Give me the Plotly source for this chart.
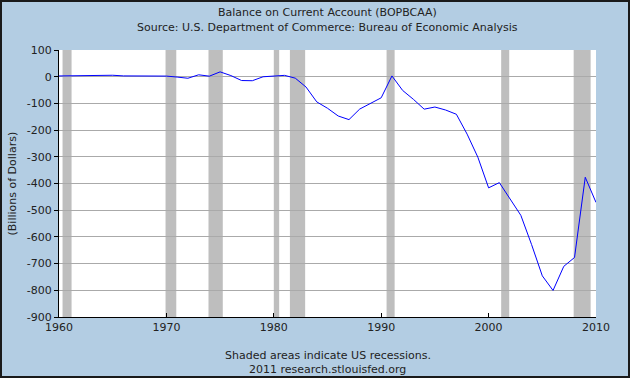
import plotly.graph_objects as go

years = list(range(1960, 2011))
balance = [2.8, 3.8, 3.4, 4.4, 6.8, 5.4, 3.0, 2.6, 0.6, 0.4,
           2.3, -1.4, -5.8, 7.1, 2.0, 18.1, 4.3, -14.3, -15.1, -0.3,
           2.3, 5.0, -5.5, -38.7, -94.3, -118.2, -147.2, -160.7, -121.2, -99.5,
           -79.0, 2.9, -51.6, -84.8, -121.6, -113.6, -124.8, -140.7, -215.1, -301.6,
           -416.3, -396.7, -457.8, -519.1, -628.5, -745.8, -800.6, -710.3, -677.1, -376.6,
           -470.9]

recession_starts = [1960.33, 1969.92, 1973.92, 1980.0, 1981.5, 1990.5, 2001.17, 2007.92]
recession_ends = [1961.17, 1970.92, 1975.25, 1980.5, 1982.92, 1991.25, 2001.92, 2009.5]

x_tickvals = [1960, 1970, 1980, 1990, 2000, 2010]
x_ticktext = ["1960", "1970", "1980", "1990", "2000", "2010"]
y_tickvals = [100, 0, -100, -200, -300, -400, -500, -600, -700, -800, -900]
y_ticktext = ["100", "0", "-100", "-200", "-300", "-400", "-500", "-600", "-700", "-800", "-900"]

title_lines = ["Balance on Current Account (BOPBCAA)",
               "Source: U.S. Department of Commerce: Bureau of Economic Analysis"]
footer_lines = ["Shaded areas indicate US recessions.", "2011 research.stlouisfed.org"]
y_title = "(Billions of Dollars)"

BG = "#b3cde3"
TXT = "#222222"
FONT = "DejaVu Sans"
PW, PH = 537, 267
L, T = 59, 50

fig = go.Figure()
fig.add_trace(go.Scatter(x=years, y=balance, mode="lines",
                         line=dict(color="#0000ff", width=1), hoverinfo="skip"))

shapes = []
for s, e in zip(recession_starts, recession_ends):
    shapes.append(dict(type="rect", xref="x", yref="paper", x0=s, x1=e, y0=0, y1=1,
                       fillcolor="#bebebe", line=dict(width=0), layer="below"))
# outer frame
shapes.append(dict(type="rect", xref="paper", yref="paper",
                   x0=(1 - L) / PW, x1=(629 - L) / PW,
                   y0=-(377 - T - PH) / PH, y1=1 + (T - 1) / PH,
                   line=dict(color="#1a1a1a", width=2), fillcolor="rgba(0,0,0,0)"))

ann = []
for i, t in enumerate(title_lines):
    ann.append(dict(text=t, xref="paper", yref="paper", x=0.5, y=1 + (38 - 15 * i) / PH,
                    showarrow=False, xanchor="center", yanchor="middle",
                    font=dict(family=FONT, size=11, color=TXT)))
for i, t in enumerate(footer_lines):
    ann.append(dict(text=t, xref="paper", yref="paper", x=0.5, y=-(38 + 14 * i) / PH,
                    showarrow=False, xanchor="center", yanchor="middle",
                    font=dict(family=FONT, size=11, color=TXT)))
ann.append(dict(text=y_title, xref="paper", yref="paper", x=-47 / PW, y=0.5,
                textangle=-90, showarrow=False, xanchor="center", yanchor="middle",
                font=dict(family=FONT, size=11, color=TXT)))

fig.update_layout(
    width=630, height=378,
    margin=dict(l=L, r=630 - L - PW, t=T, b=378 - T - PH),
    paper_bgcolor=BG, plot_bgcolor="white",
    showlegend=False,
    font=dict(family=FONT, size=11, color=TXT),
    shapes=shapes,
    annotations=ann,
)

fig.update_xaxes(range=[1960, 2010], tickvals=x_tickvals, ticktext=x_ticktext,
                 showgrid=False, zeroline=False, showline=True, linecolor="black",
                 linewidth=1, ticks="inside", ticklen=4, tickcolor="black",
                 tickfont=dict(family=FONT, size=11, color=TXT))
fig.update_yaxes(range=[-900, 100], tickvals=y_tickvals, ticktext=y_ticktext,
                 showgrid=True, gridcolor="#aaaaaa", gridwidth=1, zeroline=False,
                 showline=True, linecolor="black", linewidth=1, ticks="outside",
                 ticklen=4, tickcolor="black",
                 tickfont=dict(family=FONT, size=11, color=TXT))

fig.write_html("out.html", config={"displayModeBar": False},
               post_script="document.body.style.margin='0';document.body.style.padding='0';")
